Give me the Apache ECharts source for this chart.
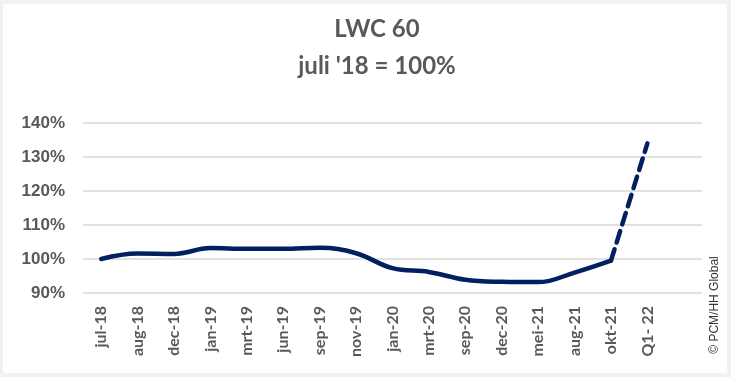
<!DOCTYPE html>
<html>
<head>
<meta charset="utf-8">
<script src="https://cdn.jsdelivr.net/npm/echarts@6/dist/echarts.min.js"></script>
<style>
  html, body { margin: 0; padding: 0; background: #f2f2f2; }
  #chart { position: absolute; left: 3px; top: 4px; width: 724px; height: 369px; background: #fff; border-radius: 3px; }
</style>
</head>
<body>
<div id="chart"></div>
<script>
// categories on the x axis (last one is an empty slot, like the original)
var months = ['jul-18', 'aug-18', 'dec-18', 'jan-19', 'mrt-19', 'jun-19', 'sep-19', 'nov-19',
    'jan-20', 'mrt-20', 'sep-20', 'dec-20', 'mei-21', 'aug-21', 'okt-21', 'Q1- 22', ''];
// index, juli '18 = 100
var actual = [100, 101.6, 101.5, 103.2, 103.0, 103.0, 103.3, 101.7,
    97.3, 96.2, 93.9, 93.3, 93.2, 96.0, 99.5];
var forecastFrom = 'okt-21';
var forecastTo = 'Q1- 22';
var forecastValue = 134;

var solidData = months.map(function (m, i) {
    return i < actual.length ? actual[i] : null;
});
var dashData = months.map(function (m) {
    if (m === forecastFrom) return actual[months.indexOf(forecastFrom)];
    if (m === forecastTo) return forecastValue;
    return null;
});

var navy = '#002060';
var grey = '#595959';

var chart = echarts.init(document.getElementById('chart'));
var option = {
    animation: false,
    backgroundColor: 'transparent',
    graphic: [
        {
            type: 'text', x: 374, y: 25,
            style: {
                text: 'LWC 60', fill: grey, font: 'bold 24px Lato',
                textAlign: 'center', textVerticalAlign: 'middle'
            }
        }, {
            type: 'text', x: 374, y: 62,
            style: {
                text: "juli '18 = 100%", fill: grey, font: 'bold 24px Lato',
                textAlign: 'center', textVerticalAlign: 'middle'
            }
        }, {
            type: 'text', x: 712, y: 301, rotation: Math.PI / 2,
            style: {
                text: '\u00a9 PCM/HH Global', fill: '#333', font: '12px "Liberation Sans"',
                textAlign: 'center', textVerticalAlign: 'middle'
            }
        }
    ],
    grid: {
        left: 80,
        right: 25,
        top: 119,
        bottom: 80
    },
    xAxis: {
        type: 'category',
        data: months,
        boundaryGap: true,
        axisLine: {show: false},
        axisTick: {show: false},
        axisLabel: {
            rotate: 90,
            margin: 13,
            interval: 0,
            color: grey,
            fontFamily: 'Lato',
            fontWeight: 'bold',
            fontSize: 16
        }
    },
    yAxis: {
        type: 'value',
        min: 90,
        max: 140,
        interval: 10,
        axisLine: {show: false},
        axisTick: {show: false},
        splitLine: {lineStyle: {color: '#d9d9d9', width: 1.5}},
        axisLabel: {
            formatter: '{value}%',
            margin: 18,
            color: grey,
            fontFamily: 'Liberation Sans',
            fontWeight: 'bold',
            fontSize: 17
        }
    },
    series: [
        {
            name: 'LWC 60',
            type: 'line',
            data: solidData,
            smooth: 0.4,
            showSymbol: false,
            lineStyle: {color: navy, width: 4.5, cap: 'round'}
        }, {
            name: 'prognose',
            type: 'line',
            data: dashData,
            connectNulls: false,
            showSymbol: false,
            lineStyle: {color: navy, width: 4.5, type: [12, 7], cap: 'round'}
        }
    ]
};
chart.setOption(option, true);
</script>
</body>
</html>
